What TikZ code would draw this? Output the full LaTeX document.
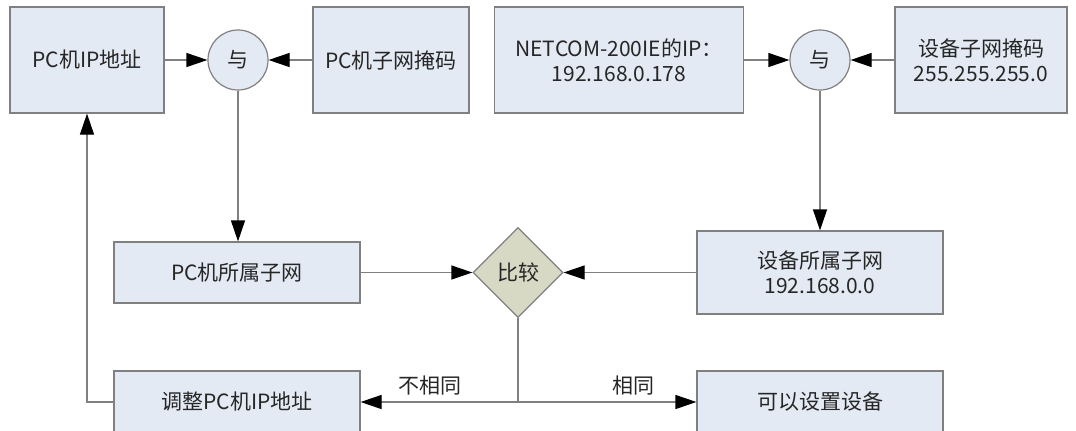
\documentclass[tikz,border=0pt]{standalone}
\usepackage{fontspec}
\setmainfont{Noto Sans CJK SC}
\usetikzlibrary{arrows.meta,shapes.geometric}

\definecolor{boxfill}{HTML}{E4EAF4}
\definecolor{decidefill}{HTML}{D7D9C4}
\definecolor{linegray}{HTML}{808080}
\definecolor{textgray}{HTML}{262626}

\begin{document}
\begin{tikzpicture}[x=0.5pt,y=-0.5pt,
    >={Triangle[length=10.5pt,width=7pt,color=black]},
    every node/.style={font=\fontsize{10.5pt}{12.5pt}\selectfont,text=textgray},
    box/.style={draw=linegray,fill=boxfill,line width=0.6pt,align=center,inner sep=0pt},
    gate/.style={circle,draw=linegray,fill=boxfill,line width=0.6pt,minimum size=30pt,inner sep=0pt},
    decide/.style={diamond,aspect=1,draw=linegray,fill=decidefill,line width=0.6pt,minimum size=45pt,inner sep=0pt},
    link/.style={draw=linegray,line width=0.6pt}]

        \useasboundingbox (0,0) rectangle (1076,430);
        \clip (0,0) rectangle (1076,430);

        % Top row: PC side
        \draw (87,60) node [box,minimum width=77pt,minimum height=53pt] (PCIP) {PC机IP地址}
        ++(151,0) node [gate] (PCAnd) {与}
        ++(153,0) node [box,minimum width=78pt,minimum height=53pt] (PCMask) {PC机子网掩码};

        % Top row: device side
        \draw (619,60) node [box,minimum width=124.5pt,minimum height=53pt] (DevIP) {NETCOM-200IE的IP：\\192.168.0.178}
        ++(201,0) node [gate] (DevAnd) {与}
        ++(161,0) node [box,minimum width=86pt,minimum height=53pt] (DevMask) {设备子网掩码\\255.255.255.0};

        % Middle row
        \node [box,minimum width=123pt,minimum height=30.5pt] (PCNet) at (237,272.5) {PC机所属子网};
        \node [decide] (Compare) at (518,272.5) {比较};
        \node [box,minimum width=123pt,minimum height=41.5pt] (DevNet) at (820,272.5) {设备所属子网\\192.168.0.0};

        % Bottom row
        \node [box,minimum width=123pt,minimum height=31pt] (Adjust) at (237,402) {调整PC机IP地址};
        \node [box,minimum width=123pt,minimum height=31pt] (Config) at (820,402) {可以设置设备};

        \foreach \x/\y in {PCIP/PCAnd,PCMask/PCAnd,DevIP/DevAnd,DevMask/DevAnd,PCNet/Compare,DevNet/Compare}
        {
            \draw [link,->] (\x) -- (\y);
        }

        \draw [link,->] (PCAnd.south) -- (PCAnd.south |- PCNet.north);
        \draw [link,->] (DevAnd.south) -- (DevAnd.south |- DevNet.north);

        \coordinate (Split) at (Compare.south |- Adjust.east);
        \draw [link] (Compare.south) -- (Split);
        \draw [link,->] (Split) -- node [above,pos=0.56] (Differ) {不相同} (Adjust);
        \draw [link,->] (Split) -- node [above,pos=0.65] (Same) {相同} (Config);

        \draw [link,->] (Adjust.west) -| (PCIP.south);
    \end{tikzpicture}
\end{document}
